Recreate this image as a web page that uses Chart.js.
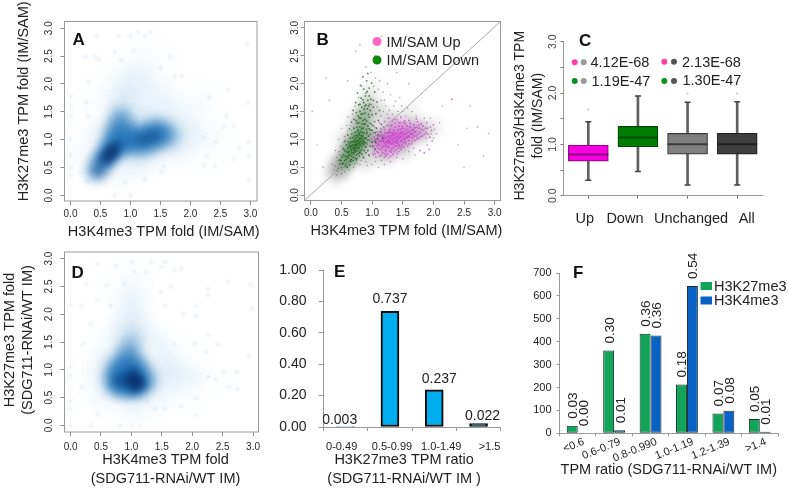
<!DOCTYPE html>
<html>
<head>
<meta charset="utf-8">
<title>H3K27me3 and H3K4me3 TPM fold panels</title>
<script src="https://cdn.jsdelivr.net/npm/chart.js@4"></script>
<style>
  html, body { margin: 0; background: #fff; }
  #page { position: relative; width: 788px; height: 488px; overflow: hidden; }
  canvas { position: absolute; left: 0; top: 0; }
</style>
</head>
<body>
<div id="page"></div>
<script>
// Shared tick lists
const foldTicks = [0, 0.5, 1, 1.5, 2, 2.5, 3];
const ratioTicks = [0, 0.2, 0.4, 0.6, 0.8, 1];
const countTicks = [0, 100, 200, 300, 400, 500, 600, 700];

// Panel A density as [x, y, weight]
const aHaze = [[.9,1.7,.16],[1,2,.1],[1.1,2.3,.05],[.7,1,.2],[1,1.3,.2],[1.4,1.3,.22],[1.8,1.2,.16],[2.1,1,.06],[2.1,1.6,.05],[1.6,1.7,.08],[1.3,1.9,.08],[.5,1.3,.05],[.4,.8,.06],[1.2,.7,.16],[1.7,.9,.14],[.8,.5,.1],[1.4,2.4,.03],[.6,1.8,.03],[2.4,1,.03],[.15,.7,.03]];
const aRidge = [[.42,.42,.4],[.47,.5,.35],[.52,.6,.4],[.58,.68,.45],[.62,.72,.45],[.68,.8,.45],[.74,.86,.4],[.72,1,.3],[.8,1.15,.28],[.82,1.3,.26],[.85,1.45,.2],[.9,1.2,.22],[.95,1.1,.22],[.85,.92,.36],[.95,.94,.38],[1.05,.97,.4],[1.15,1,.42],[1.25,1.02,.46],[1.35,1.05,.48],[1.45,1.08,.42],[1.55,1.1,.34],[1.65,1.12,.22],[1.2,.85,.24],[1.4,.9,.26],[1.3,1.2,.28],[1.5,1.22,.22],[1,.8,.22],[1.7,1,.1],[.7,.9,.25],[.8,1.02,.25],[.9,1.02,.22],[1,1.12,.2],[.75,1.2,.22],[.68,1.08,.18],[.95,1.32,.14],[.78,1.42,.14],[1.1,1.1,.25],[1.4,1.15,.3],[1.25,.92,.28],[1.55,1,.2]];
const aCore = [[.56,.62,.3],[.62,.7,.55],[.68,.78,.6],[.74,.84,.4],[.46,.44,.2],[.8,.9,.15],[1.3,1.03,.22],[1.15,1,.16],[1.45,1.08,.14]];
const aSpecks = [[.43,2.86],[.8,2.86],[1,2.86],[1.13,2.93],[1.33,2.93],[1.24,2.86],[2.95,2.71],[.74,2.58],[1.05,2.6],[.25,2.49],[.41,2.49],[.47,2.43],[.85,2.43],[1.66,2.49],[1.5,2.3],[1.74,2.14],[1.85,2.14],[.3,2.04],[.01,1.78],[.01,1.6],[.01,1.42],[.26,1.68],[.3,1.42],[2.95,1.66],[2.63,1.9],[2.31,1.76],[2.6,1.42],[2.55,1.22],[2.73,1.23],[2.97,.96],[2.97,.72],[2.82,.84],[2.72,.65],[2.41,.96],[2.23,.54],[2.41,.53],[2.97,.27],[0,1.02],[0,.72],[.01,.5],[.01,.36],[.74,0],[1,0],[.91,.23],[.27,.26],[1.55,.51],[1.52,.42],[1.24,.29],[2.22,1.05],[2.27,.7]];

// Panel B points as [x, y]
const bGreyHaze = [[.42,.42,.5],[.5,.55,.6],[.6,.7,.7],[.7,.85,.7],[.8,1,.6],[.85,1.25,.55],[.9,1.5,.4],[.95,1.75,.2],[1,2,.08],[1,1,.6],[1.2,1,.65],[1.4,1.05,.65],[1.6,1.12,.6],[1.8,1.15,.45],[1.2,.75,.45],[1.5,.85,.4],[1.3,1.3,.4],[.6,1,.3],[.75,1.3,.3],[1.1,1.5,.25],[1.6,1.4,.22],[.9,.65,.35],[2,1.2,.12]];
const bGreenHaze = [[.58,.62,.4],[.68,.8,.55],[.76,.95,.6],[.82,1.15,.42],[.86,1.4,.3],[.9,1.62,.14]];
const bPinkHaze = [[1.15,.92,.45],[1.3,1,.6],[1.45,1.05,.6],[1.6,1.12,.42],[1.75,1.15,.22],[1.3,.8,.25],[1.4,1.25,.25]];
const bDown = [[.52,.55],[.55,.62],[.5,.5],[.57,.56],[.6,.6],[.56,.7],[.62,.66],[.58,.78],[.64,.72],[.6,.84],[.66,.8],[.63,.92],[.68,.7],[.7,.76],[.66,.88],[.72,.84],[.69,.96],[.74,.72],[.71,.9],[.76,.8],[.73,1.02],[.78,.88],[.75,.96],[.8,.76],[.77,1.08],[.82,.92],[.79,1],[.84,.84],[.81,1.14],[.86,.98],[.83,1.06],[.88,.88],[.85,1.2],[.9,1.02],[.87,1.12],[.92,.92],[.89,1.28],[.94,1.06],[.91,1.18],[.96,.98],[.72,1.12],[.75,1.22],[.78,1.3],[.81,1.38],[.84,1.46],[.87,1.54],[.9,1.62],[.93,1.7],[.7,1.2],[.74,1.34],[.77,1.42],[.8,1.5],[.83,1.58],[.86,1.66],[.89,1.78],[.92,1.86],[.95,1.4],[.98,1.28],[1,1.16],[1.03,1.04],[1.06,.94],[.97,1.52],[1,1.44],[1.04,1.32],[1.07,1.2],[1.1,1.08],[.94,1.6],[.98,1.72],[1.02,1.58],[1.06,1.46],[1.1,1.34],[.95,1.92],[.91,2.05],[.86,1.9],[.82,1.74],[.78,1.62],[.74,1.48],[.7,1.36],[.67,1.1],[.64,1.02],[.61,.96],[.58,.9],[.55,.8],[.53,.72],[.49,.62],[.47,.56],[.45,.48],[.43,.44],[.74,.88],[.76,.92],[.78,.96],[.8,.9],[.82,1.02],[.72,.94],[.7,.82],[.68,.9],[.76,1.04],[.79,.84],[.83,.96],[.85,1.06],[.73,.78],[.71,.86],[.77,.74],[.81,.82],[.69,.62],[.65,.6],[.75,.66],[.79,.7],[.63,.54],[.59,.5],[.87,.8],[.9,.86],[.93,.8],[.97,.88],[1,.95],[1.05,.82],[.67,.76],[.65,.84],[.62,.78],[.59,.68],[.69,.68],[.73,.9],[.75,.84],[.77,.98],[.8,1.08],[.84,1.12],[.88,1.02],[.86,.9],[.82,.8],[.91,1.1],[.93,1.24],[.88,1.36],[.84,1.28],[.8,1.22],[.76,1.14],[.47,.63],[.53,.84],[.51,.68],[.56,.97],[.6,1.08],[.63,1.19],[.66,1.31],[.69,1.52],[.73,1.66],[.76,1.83],[.81,1.97],[.85,2.12],[.93,2.18],[.99,2.01],[1.04,1.85],[1.08,1.67],[1.12,1.52],[1.15,1.27],[1.13,1.13],[1.17,1.02],[.61,.71],[.64,.63],[.67,.69],[.71,.73],[.74,.63],[.78,.79],[.83,.74],[.86,.67],[.9,.76],[.95,.72],[.62,.87],[.65,.95],[.68,1.03],[.71,.99],[.74,1.07],[.77,1.17],[.8,1.03],[.84,1.01],[.87,.95],[.9,.94],[.92,1.13],[.95,1.19],[.97,1.09],[.99,1.01],[1.01,.88],[1.04,.97],[1.08,1.01],[.69,.85],[.72,.8],[.75,.91],[.79,.93],[.81,.97],[.83,.87],[.85,.93],[.77,.85],[.73,.97],[.71,1.06],[.79,1.11],[.83,1.19],[.87,1.27],[.91,1.33],[.94,1.45],[.85,1.34],[.79,1.39],[.75,1.29],[.82,1.45],[.88,1.47],[.92,1.55],[.96,1.63],[.85,1.71],[.9,1.83],[.8,1.63],[.95,1.78],[1.02,1.7],[.88,1.6],[1.01,1.25],[1.05,1.12],[.97,1.17],[.93,.99],[.89,.92],[.67,.95],[.64,.88],[.61,.76],[.57,.64],[.54,.57],[.51,.57],[.56,.52],[.66,.64],[.72,.66],[.79,.77]];
const bUp = [[1.02,.72],[1.04,.84],[1,.95],[1.06,.68],[1.05,1],[1.02,1.12],[1.08,.78],[1.09,.92],[1.07,1.08],[1.04,1.22],[1.12,.7],[1.14,.82],[1.11,.9],[1.16,.98],[1.13,1.06],[1.17,.76],[1.15,1.14],[1.19,.88],[1.18,1.22],[1.12,1.3],[1.2,.68],[1.22,.8],[1.21,.94],[1.23,1.02],[1.24,1.1],[1.2,1.32],[1.25,.74],[1.27,.86],[1.26,.98],[1.28,1.06],[1.29,1.18],[1.27,1.38],[1.3,.7],[1.32,.82],[1.31,.92],[1.33,1],[1.34,1.08],[1.35,1.16],[1.32,1.26],[1.36,.78],[1.38,.88],[1.37,.96],[1.39,1.04],[1.4,1.12],[1.38,1.22],[1.36,1.36],[1.41,.74],[1.43,.84],[1.42,.94],[1.44,1.02],[1.45,1.1],[1.46,1.18],[1.43,1.3],[1.47,.82],[1.49,.9],[1.48,.98],[1.5,1.06],[1.51,1.14],[1.49,1.24],[1.47,1.4],[1.52,.86],[1.54,.96],[1.53,1.02],[1.55,1.1],[1.56,1.18],[1.54,1.28],[1.58,.88],[1.6,.98],[1.59,1.06],[1.61,1.14],[1.62,1.22],[1.6,1.34],[1.64,.92],[1.66,1.02],[1.65,1.1],[1.67,1.18],[1.68,1.26],[1.7,.98],[1.72,1.06],[1.71,1.14],[1.73,1.22],[1.74,1.32],[1.76,1.02],[1.78,1.12],[1.77,1.2],[1.8,1.28],[1.82,1.06],[1.84,1.16],[1.83,1.24],[1.88,1.12],[1.9,1.2],[1.94,1.04],[1.97,1.16],[2,1.26],[1.93,.82],[1.85,.76],[1.78,.8],[2.3,1.72],[1.18,.96],[1.2,1.04],[1.22,.9],[1.25,.96],[1.3,1.02],[1.35,.92],[1.4,.98],[1.42,1.06],[1.46,.96],[1.34,1.12],[1.28,.98],[1.26,1.12],[1.36,1.02],[1.33,.94],[1.44,.9],[1.52,1],[1.57,1.04],[1.48,1.12],[1.1,1],[1.08,1.14],[1.03,.78],[1.01,.87],[1.06,.96],[1.1,.84],[1.13,.96],[1.15,.72],[1.17,1.04],[1.19,.99],[1.21,1.12],[1.23,.71],[1.24,.87],[1.27,.93],[1.28,1.14],[1.3,1.24],[1.31,.77],[1.32,1.06],[1.33,1.33],[1.35,.85],[1.36,1.09],[1.37,1.29],[1.39,.81],[1.4,.93],[1.41,1.01],[1.42,1.17],[1.43,.78],[1.44,1.24],[1.45,.87],[1.46,1.04],[1.47,1.12],[1.48,.86],[1.5,1.2],[1.51,.94],[1.52,1.09],[1.53,1.33],[1.55,.92],[1.56,1.03],[1.57,1.24],[1.58,1.13],[1.6,.92],[1.61,1.04],[1.62,1.29],[1.63,1.1],[1.65,.96],[1.66,1.17],[1.68,1.06],[1.69,1.13],[1.7,1.21],[1.72,1.37],[1.73,1.01],[1.75,1.09],[1.76,1.26],[1.79,1.05],[1.81,1.18],[1.85,1.09],[1.87,1.2],[1.89,1.3],[1.91,1.09],[1.95,1.22],[1.98,.97],[1.29,.79],[1.34,.73],[1.21,.74],[1.16,.86],[1.11,.97],[1.09,1.05],[1.14,1.19],[1.19,1.07],[1.26,1.05],[1.31,1.12],[1.38,1.09],[1.41,.88],[1.35,.97],[1.29,.95],[1.24,.95],[1.46,1.3],[1.51,1.3],[1.4,1.35],[1.25,1.25],[1.2,1.18],[1.15,1.08],[1.1,.76],[1.07,.88],[1.05,.74]];
const bGrey = [[1.2,1.7],[1.35,1.6],[1.5,1.5],[1.65,1.5],[1.1,1.9],[1.05,2.1],[.9,2.3],[.73,2.58],[1.3,1.8],[1.45,1.75],[1.25,2],[1.05,2.5],[.6,1.4],[.5,1.2],[.45,1],[.4,.8],[.35,.55],[.38,.45],[.42,.36],[.5,.38],[.55,.42],[.62,.45],[.7,.5],[.8,.55],[.9,.6],[1,.55],[1.1,.5],[1.2,.55],[1.3,.6],[1.5,.65],[1.7,.72],[1.9,.9],[2.05,1.1],[2.1,1.3],[2.15,1.6],[2.55,1.2],[2.72,1.22],[2.82,.7],[2.5,.5],[.55,1.05],[.6,1.15],[.65,1.25],[.68,1.45],[.72,1.6],[.78,1.75],[.83,1.95],[.98,2.2],[1.15,1.7],[1.18,1.5],[1.25,1.45],[1.42,1.5],[1.55,1.42],[1.72,1.42],[1.85,1.38],[1.95,1.38],[2,1.02],[.95,1.3],[1,.75],[.95,.7],[.85,.7],[.75,.58],[.6,.5],[.5,.46],[.52,.82],[.48,.72],[.44,.62],[.4,.52],[.02,1.5],[.1,.9],[.2,.5],[.3,1.7],[.25,2.1],[2.4,.9],[2.6,1.6],[2.9,1.1],[1.6,2],[1.4,2.2],[1.15,2.85],[.6,2.05],[.8,2.7],[1.08,1.58],[1.14,1.42],[1.22,1.6],[1.28,1.52],[1.33,1.45],[1.38,1.68],[1.48,1.6],[1.58,1.56],[1.02,1.95],[1.12,2.05],[1.18,1.85],[.99,1.62],[.66,1.16],[.58,1.25],[.54,.95],[.49,.88],[.46,.78],[.42,.68],[.72,.56],[.82,.62],[.92,.53],[1.05,.6],[1.15,.62],[1.27,.66],[1.4,.68],[1.6,.78],[1.68,.84],[1.88,1.02],[1.96,1.1],[2.02,1.18]];

// Panel C box statistics
const boxCategories = ['Up', 'Down', 'Unchanged', 'All'];
const boxLow = [0.30, 0.47, 0.21, 0.21];
const boxQ1 = [0.675, 0.955, 0.81, 0.81];
const boxMedian = [0.805, 1.136, 1.0, 1.0];
const boxQ3 = [0.985, 1.35, 1.214, 1.214];
const boxHigh = [1.44, 1.94, 1.82, 1.83];
const boxOutliers = [1.68, null, 1.99, 1.99];
const pValues = ['4.12E-68', '2.13E-68', '1.19E-47', '1.30E-47'];

// Panel D density as [x, y, weight]
const dHaze = [[1,1.7,.2],[1,2.05,.12],[1.05,2.35,.06],[.95,2.6,.03],[.75,1.5,.1],[1.3,1.5,.1],[1.5,1,.16],[1.8,.9,.1],[2.05,.85,.06],[1.5,.6,.07],[.6,1.1,.14],[.55,.6,.1],[1,.45,.14],[1.3,.45,.05],[.4,.9,.03],[1.6,1.4,.05]];
const dRidge = [[.7,.75,.45],[.7,.95,.4],[.8,.7,.5],[.8,.9,.55],[.8,1.1,.45],[.9,.7,.55],[.9,.9,.6],[.9,1.1,.45],[.9,1.3,.3],[1,.7,.6],[1,.9,.65],[1,1.1,.45],[1,1.3,.3],[1.1,.7,.6],[1.1,.9,.65],[1.1,1.1,.4],[1.2,.75,.45],[1.2,.95,.35],[1.3,.8,.2],[.95,1.5,.14],[1.05,1.5,.14]];
const dCore = [[1.05,.8,.75],[1.02,.92,.45],[.8,.8,.3],[1.12,.76,.5],[.92,.8,.35],[1.05,.68,.3]];
const dSpecks = [[.44,2.91],[.74,2.87],[1,2.94],[1.33,2.94],[1.49,2.85],[1.55,2.94],[1.71,2.79],[1.82,2.82],[1.06,2.76],[1.25,2.76],[.26,2.55],[.59,2.52],[.88,2.55],[1.65,2.49],[1.49,2.4],[2.26,2.46],[2.26,2.34],[2.59,2.58],[2.96,2.53],[2.99,2.1],[0,2.16],[.19,2.16],[.44,2.25],[.33,1.83],[.66,2.16],[1.55,2.15],[1.85,2.01],[2.07,2.15],[2.07,1.97],[2.26,1.62],[2.22,1.31],[2.43,1.46],[2.04,1.47],[1.71,1.46],[2.93,1.25],[.2,1.46],[0,1.05],[0,.9],[.18,.69],[2.26,.87],[2.38,.83],[2.52,.96],[2.73,.96],[2.74,.66],[2.6,.69],[2.07,.48],[2.07,.19],[1.82,.34],[1.55,.3],[1.39,.3],[1.27,.43],[.45,.2],[0,.44],[0,.3],[0,0],[.34,0],[.8,0],[1,0],[1.15,0]];

// Panel E
const ratioCategories = ['0-0.49', '0.5-0.99', '1.0-1.49', '>1.5'];
const ratioValues = [0.003, 0.737, 0.237, 0.022];

// Panel F
const tpmCategories = ['<0.6', '0.6-0.79', '0.8-0.990', '1.0-1.19', '1.2-1.39', '>1.4'];
const k27Counts = [33, 362, 435, 213, 87, 62];
const k4Counts = [0, 13, 427, 643, 99, 7];
const k27Shares = ['0.03', '0.30', '0.36', '0.18', '0.07', '0.05'];
const k4Shares = ['0.00', '0.01', '0.36', '0.54', '0.08', '0.01'];

const FONT = '"Liberation Sans", Arial, sans-serif';
const TEXT = '#222';
const page = document.getElementById('page');
const sprites = {};

// soft round blob used for the smoothed density panels
function blob(color, radius, weight) {
  const key = color + radius + weight;
  if (sprites[key]) return sprites[key];
  const c = document.createElement('canvas');
  c.width = c.height = radius * 2;
  const g = c.getContext('2d');
  const grad = g.createRadialGradient(radius, radius, 0, radius, radius, radius);
  [[0, 1], [.25, .8], [.5, .42], [.75, .12], [1, 0]].forEach(([stop, a]) => {
    grad.addColorStop(stop, color + Math.round(a * weight * 255).toString(16).padStart(2, '0'));
  });
  g.fillStyle = grad;
  g.fillRect(0, 0, radius * 2, radius * 2);
  return (sprites[key] = c);
}

function blobLayer(rows, color, radius, defaultWeight) {
  return {
    type: 'scatter',
    data: rows.map(r => ({ x: r[0], y: r[1], w: r[2] === undefined ? defaultWeight : r[2] })),
    pointRadius: 3,
    pointBorderWidth: 0,
    pointStyle: ctx => blob(color, radius, ctx.raw ? ctx.raw.w : 0.1)
  };
}

function dotLayer(rows, color, radius) {
  return {
    type: 'scatter',
    data: rows.map(r => ({ x: r[0], y: r[1] })),
    pointRadius: radius,
    pointBorderWidth: 0,
    pointBackgroundColor: color
  };
}

function text(ctx, str, x, y, font, color, align) {
  ctx.save();
  ctx.font = font;
  ctx.fillStyle = color || TEXT;
  ctx.textAlign = align || 'left';
  ctx.textBaseline = 'alphabetic';
  ctx.fillText(str, x, y);
  ctx.restore();
}

function dot(ctx, x, y, r, color) {
  ctx.save();
  ctx.fillStyle = color;
  ctx.beginPath();
  ctx.arc(x, y, r, 0, Math.PI * 2);
  ctx.fill();
  ctx.restore();
}

// fixes the space an axis takes, so the plot area lands where the reference has it
function fixed(size, titleDx, titleDy) {
  return function (scale) {
    if (scale.isHorizontal()) scale.height = size; else scale.width = size;
    if (!scale._shifted) {
      const drawTitle = scale.drawTitle;
      scale.drawTitle = function () {
        this.ctx.save();
        this.ctx.translate(titleDx || 0, titleDy || 0);
        drawTitle.call(this);
        this.ctx.restore();
      };
      scale._shifted = true;
    }
  };
}

function foldAxis(horizontal, min, max, size, padding, title, titleDx, titleDy) {
  return {
    type: 'linear',
    min: min,
    max: max,
    border: { display: false },
    grid: { drawOnChartArea: false, drawTicks: true, tickLength: 4, tickColor: '#8f8f8f', tickWidth: 1 },
    ticks: {
      autoSkip: false,
      color: '#2a2a2a',
      padding: padding,
      font: { family: FONT, size: 10 },
      callback: v => v.toFixed(1),
      minRotation: horizontal ? 0 : 90,
      maxRotation: horizontal ? 0 : 90,
      crossAlign: horizontal ? 'near' : 'center'
    },
    title: title ? { display: true, text: title, color: TEXT, padding: 0, font: { family: FONT, size: 14.5, lineHeight: 1.28 } } : { display: false },
    afterBuildTicks: s => { s.ticks = foldTicks.map(v => ({ value: v })); },
    afterFit: fixed(size, titleDx, titleDy)
  };
}

function framePlugin(color) {
  return {
    id: 'frame',
    afterDatasetsDraw(chart) {
      const a = chart.chartArea;
      const ctx = chart.ctx;
      ctx.save();
      ctx.strokeStyle = color;
      ctx.lineWidth = 1;
      ctx.strokeRect(a.left, a.top, a.right - a.left, a.bottom - a.top);
      ctx.restore();
    }
  };
}

function notesPlugin(draw) {
  return { id: 'notes', afterDraw(chart) { draw(chart, chart.ctx); } };
}

// every panel gets its own full page canvas, box is the plot rectangle in page pixels
function panel(box, axisLeft, axisBottom, config) {
  const canvas = document.createElement('canvas');
  canvas.width = 788;
  canvas.height = 488;
  canvas.style.width = '788px';
  canvas.style.height = '488px';
  page.appendChild(canvas);
  config.options = Object.assign({
    responsive: false,
    animation: false,
    events: [],
    layout: { padding: { left: box.l - axisLeft, top: box.t, right: 788 - box.r, bottom: 488 - box.b - axisBottom } }
  }, config.options);
  config.options.plugins = { legend: { display: false }, tooltip: { enabled: false } };
  return new Chart(canvas, config);
}

const PANEL_LABEL = 'bold 17px ' + FONT;

// ---- A
panel({ l: 64.5, t: 21.5, r: 257, b: 201 }, 49.5, 40, {
  type: 'scatter',
  data: { datasets: [
    blobLayer(aSpecks, '#5b9bd5', 4, 0.13),
    blobLayer(aCore, '#08306b', 13),
    blobLayer(aRidge, '#1a6fb5', 20),
    blobLayer(aHaze, '#6aaedc', 32)
  ] },
  options: { scales: {
    x: foldAxis(true, -0.1, 3.11, 40, 3, 'H3K4me3 TPM fold (IM/SAM)', 3, 0),
    y: foldAxis(false, -0.1, 3.12, 49.5, 4, 'H3K27me3 TPM fold (IM/SAM)', 0, -10)
  } },
  plugins: [framePlugin('#999'), notesPlugin((chart, ctx) => {
    text(ctx, 'A', 72.5, 45, PANEL_LABEL, '#111');
  })]
});

// ---- B
panel({ l: 304.5, t: 21.5, r: 500.5, b: 200.5 }, 20, 40, {
  type: 'scatter',
  data: { datasets: [
    { type: 'line', data: [{ x: -0.105, y: -0.097 }, { x: 3.095, y: 3.115 }], borderColor: '#a8a8a8', borderWidth: 1, pointRadius: 0 },
    dotLayer(bDown, 'rgba(25,95,25,.75)', 0.9),
    dotLayer(bUp, 'rgba(190,40,190,.6)', 0.9),
    dotLayer(bGrey, 'rgba(90,90,90,.5)', 0.8),
    blobLayer(bPinkHaze, '#e85ce8', 17),
    blobLayer(bGreenHaze, '#3a8f3a', 15),
    blobLayer(bGreyHaze, '#8c8c8c', 19)
  ] },
  options: { scales: {
    x: foldAxis(true, -0.105, 3.095, 40, 3, 'H3K4me3 TPM fold (IM/SAM)', 4, 0),
    y: foldAxis(false, -0.097, 3.115, 20, -2, null)
  } },
  plugins: [framePlugin('#999'), notesPlugin((chart, ctx) => {
    text(ctx, 'B', 316.5, 45, PANEL_LABEL, '#111');
    const font = '14.5px ' + FONT;
    dot(ctx, 377, 41.5, 4.5, '#ff66c4');
    text(ctx, 'IM/SAM Up', 386.5, 46.5, font);
    dot(ctx, 377, 60, 4.5, '#0b8a0b');
    text(ctx, 'IM/SAM Down', 386.5, 65, font);
  })]
});

// ---- C
const boxFill = ['#f600e0', '#007d00', '#808080', '#404040'];
const boxEdge = ['#8a0a80', '#004a00', '#3a3a3a', '#222222'];
const boxLabelNudge = [-3.5, -13, 3.5, 9.5];

function capLayer(values, radius, color, width, order) {
  return { type: 'line', showLine: false, data: values, order: order, pointStyle: 'line', pointRadius: radius, pointBorderWidth: width, pointBorderColor: color };
}

panel({ l: 563.5, t: 41.7, r: 762, b: 195.7 }, 52, 30, {
  type: 'bar',
  data: {
    labels: boxCategories,
    datasets: [
      { data: boxOutliers, type: 'line', showLine: false, order: 1, pointRadius: 1, pointBorderWidth: 0, pointBackgroundColor: '#c4c4c4' },
      capLayer(boxMedian, 20, boxEdge, 2, 2),
      capLayer(boxLow, 3, '#444', 1.5, 3),
      capLayer(boxHigh, 3, '#444', 1.5, 3),
      { data: boxCategories.map((c, i) => [boxQ1[i], boxQ3[i]]), order: 4, barThickness: 40, grouped: false, backgroundColor: boxFill, borderColor: boxEdge, borderWidth: 1.2, borderSkipped: false },
      { data: boxCategories.map((c, i) => [boxLow[i], boxHigh[i]]), order: 5, barThickness: 2, grouped: false, backgroundColor: '#606060' }
    ]
  },
  options: { scales: {
    x: {
      type: 'category',
      offset: true,
      border: { color: '#999' },
      grid: { drawOnChartArea: false, offset: false, tickLength: 3, tickColor: '#777' },
      ticks: { callback: () => '', autoSkip: false },
      afterFit: fixed(30)
    },
    y: {
      min: 0,
      max: 3,
      border: { color: '#999' },
      grid: { drawOnChartArea: false, tickLength: 3, tickColor: '#777' },
      ticks: {
        autoSkip: false,
        color: '#444',
        padding: 0,
        font: { family: FONT, size: 10.5 },
        minRotation: 90,
        maxRotation: 90,
        crossAlign: 'center',
        callback: v => (Number.isInteger(v) ? v.toFixed(1) : '')
      },
      title: { display: true, text: ['H3K27me3/H3K4me3 TPM', 'fold (IM/SAM)'], color: TEXT, padding: 0, font: { family: FONT, size: 14, lineHeight: 1.29 } },
      afterBuildTicks: s => { s.ticks = foldTicks.map(v => ({ value: v })); },
      afterFit: fixed(52, 0, -3)
    }
  } },
  plugins: [notesPlugin((chart, ctx) => {
    const font = '14.5px ' + FONT;
    text(ctx, 'C', 579, 45.5, PANEL_LABEL, '#111');
    dot(ctx, 574.7, 62.3, 3, '#ff3fa8'); dot(ctx, 583.7, 62.3, 3, '#999');
    text(ctx, pValues[0], 590.5, 67.3, font);
    dot(ctx, 664.3, 61.7, 3, '#ff3fa8'); dot(ctx, 674, 61.7, 3, '#555');
    text(ctx, pValues[1], 682, 66.8, font);
    dot(ctx, 574.7, 81, 3, '#0a9020'); dot(ctx, 583.7, 81, 3, '#999');
    text(ctx, pValues[2], 591.5, 86, font);
    dot(ctx, 664.3, 81, 3, '#0a9020'); dot(ctx, 674, 81, 3, '#555');
    text(ctx, pValues[3], 682.5, 85.3, font);
    boxCategories.forEach((c, i) => {
      text(ctx, c, chart.scales.x.getPixelForValue(i) + boxLabelNudge[i], 223, font, TEXT, 'center');
    });
  })]
});

// ---- D
panel({ l: 64.5, t: 252, r: 258.5, b: 432 }, 64, 56, {
  type: 'scatter',
  data: { datasets: [
    blobLayer(dSpecks, '#5b9bd5', 4, 0.13),
    blobLayer(dCore, '#08306b', 14),
    blobLayer(dRidge, '#1a6fb5', 20),
    blobLayer(dHaze, '#6aaedc', 30)
  ] },
  options: { scales: {
    x: foldAxis(true, -0.1, 3.09, 56, 5, ['H3K4me3 TPM fold', '(SDG711-RNAi/WT IM)'], 4, 0),
    y: foldAxis(false, -0.12, 3.12, 64, 4, ['H3K27me3 TPM fold', '(SDG711-RNAi/WT IM)'], 0, -2)
  } },
  plugins: [framePlugin('#999'), notesPlugin((chart, ctx) => {
    text(ctx, 'D', 71.5, 277.5, PANEL_LABEL, '#111');
  })]
});

// ---- E
const ratioLabelNudge = [[-6, 3], [0, 8], [5, 7], [4, 4]];
const ratioTickNudge = [-4, 2, 7, 11];

panel({ l: 323.5, t: 270, r: 500.7, b: 427 }, 60, 61, {
  type: 'bar',
  data: { labels: ratioCategories, datasets: [
    { data: ratioValues, barThickness: 18, backgroundColor: '#00aeef', borderColor: '#0b0b0b', borderWidth: 2, borderSkipped: false }
  ] },
  options: { scales: {
    x: {
      type: 'category',
      offset: true,
      border: { color: '#999' },
      grid: { drawOnChartArea: false, offset: true, tickLength: 4, tickColor: '#999' },
      ticks: { callback: () => '', autoSkip: false },
      title: { display: true, text: ['H3K27me3 TPM ratio', '(SDG711-RNAi/WT IM )'], color: TEXT, padding: 0, font: { family: FONT, size: 14.5, lineHeight: 1.28 } },
      afterFit: fixed(61, -8, 0)
    },
    y: {
      min: 0,
      max: 1,
      border: { color: '#999' },
      grid: { drawOnChartArea: false, tickLength: 5, tickColor: '#999' },
      ticks: { autoSkip: false, color: TEXT, padding: 12, font: { family: FONT, size: 14 }, callback: v => v.toFixed(2) },
      afterBuildTicks: s => { s.ticks = ratioTicks.map(v => ({ value: v })); },
      afterFit: fixed(60)
    }
  } },
  plugins: [notesPlugin((chart, ctx) => {
    text(ctx, 'E', 334, 277, PANEL_LABEL, '#111');
    const bars = chart.getDatasetMeta(0).data;
    ratioValues.forEach((v, i) => {
      ctx.save();
      ctx.beginPath();
      ctx.rect(323, 250, 200, 200);
      ctx.clip();
      text(ctx, v.toFixed(3), bars[i].x + ratioLabelNudge[i][0], bars[i].y - ratioLabelNudge[i][1], '14px ' + FONT, TEXT, 'center');
      ctx.restore();
      text(ctx, ratioCategories[i], bars[i].x + ratioTickNudge[i], 449.5, '11px ' + FONT, TEXT, 'center');
    });
  })]
});

// ---- F
panel({ l: 559.5, t: 273, r: 778, b: 433.3 }, 40, 45.7, {
  type: 'bar',
  data: { labels: tpmCategories, datasets: [
    { data: k27Counts, backgroundColor: '#12a55a', borderColor: '#10302a', borderWidth: 1, borderSkipped: false, barPercentage: 1, categoryPercentage: 0.6 },
    { data: k4Counts, backgroundColor: '#0a62c6', borderColor: '#10302a', borderWidth: 1, borderSkipped: false, barPercentage: 1, categoryPercentage: 0.6 }
  ] },
  options: { scales: {
    x: {
      type: 'category',
      offset: true,
      border: { color: '#999' },
      grid: { drawOnChartArea: false, offset: true, tickLength: 3, tickColor: '#999' },
      ticks: { autoSkip: false, color: TEXT, padding: -1, labelOffset: 6, minRotation: 22, maxRotation: 22, font: { family: FONT, size: 11 } },
      title: { display: true, text: 'TPM ratio (SDG711-RNAi/WT IM)', color: TEXT, padding: 0, font: { family: FONT, size: 14.5, lineHeight: 1.28 } },
      afterFit: fixed(45.7)
    },
    y: {
      min: 0,
      max: 700,
      border: { color: '#999' },
      grid: { drawOnChartArea: false, tickLength: 3, tickColor: '#999' },
      ticks: { autoSkip: false, color: TEXT, padding: 5, font: { family: FONT, size: 11 } },
      afterBuildTicks: s => { s.ticks = countTicks.map(v => ({ value: v })); },
      afterFit: fixed(40)
    }
  } },
  plugins: [notesPlugin((chart, ctx) => {
    text(ctx, 'F', 573, 277.5, PANEL_LABEL, '#111');
    [k27Shares, k4Shares].forEach((shares, d) => {
      chart.getDatasetMeta(d).data.forEach((bar, i) => {
        ctx.save();
        ctx.translate(bar.x, bar.y - 7);
        ctx.rotate(-Math.PI / 2);
        text(ctx, shares[i], 0, 5, '13.5px ' + FONT, TEXT, 'left');
        ctx.restore();
      });
    });
    const font = '14.5px ' + FONT;
    ctx.fillStyle = '#12a55a';
    ctx.fillRect(700.5, 282, 11.5, 8);
    text(ctx, 'H3K27me3', 714, 290.5, font);
    ctx.fillStyle = '#0a62c6';
    ctx.fillRect(700.5, 296.5, 11.5, 8);
    text(ctx, 'H3K4me3', 714, 305, font);
  })]
});
</script>
</body>
</html>
